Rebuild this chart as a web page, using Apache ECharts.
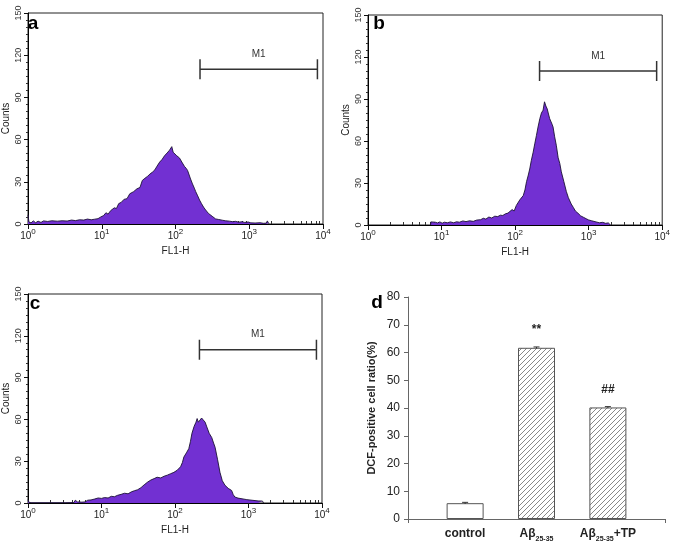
<!DOCTYPE html>
<html>
<head>
<meta charset="utf-8">
<script src="https://cdn.jsdelivr.net/npm/echarts@6/dist/echarts.min.js"></script>
<style>
html,body{margin:0;padding:0;background:#fff;}
#chart{width:673px;height:543px;}
</style>
</head>
<body>
<div id="chart"></div>
<script>
// ---------------- DATA ----------------
// Panel a histogram: [FL1-H, Counts]
const histA = [[1,6.5],[1.03,1.4],[1.1,0.8],[1.18,2.2],[1.27,0.9],[1.37,2.0],[1.5,1.1],[1.62,2.2],[1.85,1.8],[2.1,2.3],[2.5,2.0],[2.9,2.3],[3.4,2.1],[3.9,2.8],[4.4,2.4],[5.0,3.0],[5.7,2.8],[6.4,3.5],[7.2,3.0],[8.0,3.4],[8.9,3.8],[9.7,5.0],[10.6,6.0],[11.4,8.0],[12.2,7.0],[13.2,9.5],[14.0,8.5],[14.8,11.5],[15.8,11.0],[17.0,14.5],[18.5,15.5],[20,17.5],[22,18.0],[24,21.5],[27,23],[30,25],[33,26],[35.5,31],[38.5,32.5],[42,34],[45,35.5],[49,37],[52.5,38.5],[56,41],[61,44],[66,46],[71,48.5],[77,50.5],[83,52.5],[86,51.5],[89,55],[93,51],[97,50],[104,48.5],[113,47],[122,44],[132,41],[140,39.5],[146,38],[152,37.5],[160,32],[170,28.5],[180,25.5],[188,23],[200,20],[212,17],[225,14.5],[240,12],[256,10],[280,7.5],[314,5.5],[350,3.6],[385,3.2],[430,2.7],[473,2.3],[540,2.0],[600,1.6],[650,1.9],[720,1.3],[800,1.6],[870,1.1],[970,1.4],[1050,0.8],[1200,0.7],[1400,0.9],[1560,0.5],[1700,0.6],[1760,2.2],[1820,0.6],[1880,0]];
// Panel b histogram
const histB = [[7.1,0],[7.15,2.2],[7.6,1.4],[8.2,2.0],[8.8,1.5],[9.5,2.2],[10.2,1.3],[10.9,2.0],[12,1.6],[13.2,2.2],[14.6,1.6],[16,2.3],[17.5,2.0],[19.5,2.9],[21.5,2.4],[24,3.0],[27,2.6],[30,3.5],[34,3.8],[37,4.8],[40,4.2],[44,5.7],[48,5.0],[53,6.3],[58,6.0],[63,7.0],[68,6.8],[74,8.0],[80,8.5],[85,9.5],[91,11],[97,10],[104,14],[110,15],[116,18],[122,17.5],[129,21],[136,25],[143,31],[150,35],[158,40],[166,46],[176,52],[185,58],[195,64],[205,70],[217,76],[228,80],[240,82],[251,88],[262,85],[273,83],[282,80],[295,76],[309,75],[318,72],[328,70],[345,63],[363,57],[385,48],[405,44],[425,38],[460,31],[497,24],[530,19.5],[579,15],[620,12.5],[660,10],[713,8.5],[780,6.5],[850,5.5],[923,4.5],[1000,3.6],[1100,3.0],[1260,2.2],[1400,1.6],[1550,1.9],[1700,1.2],[1850,1.5],[1950,0.8],[1980,0]];
// Panel c histogram
const histC = [[1,2.4],[1.03,0.5],[1.1,0.2],[2.9,0.2],[3.05,1.5],[3.2,0.2],[4.2,0.3],[4.4,2.0],[4.7,0.8],[5.0,1.8],[5.4,0.6],[5.7,2.0],[6.0,0.8],[6.5,2.0],[7.2,2.2],[8.0,2.8],[9.0,3.6],[10,3.3],[11,3.9],[12.3,3.6],[13.6,4.8],[15,4.5],[16.5,5.5],[18.5,6.2],[20.6,7.0],[23,6.6],[25.5,8.0],[28,8.8],[31,9.5],[34.4,11],[38,13],[42.4,15],[47,16.5],[52,17.5],[57,18.5],[64,18],[71,19.2],[78.7,20],[87,21],[96.6,22],[107,23.5],[119,26],[126,29],[132,33],[143,36],[154,39],[162,44],[170,50],[182,55],[193,58],[200,60.6],[208,58],[219,57],[230,61],[244,60],[257,58],[271,54.6],[292,50],[316,47],[335,43],[351,40],[380,31],[409,22],[440,16],[479,12.7],[530,10.5],[589,9],[620,6],[652,4.3],[720,3.5],[843,2.9],[950,2.4],[1150,1.9],[1350,1.5],[1550,1.4],[1600,0]];
// M1 gate marker: [from, to, level]
const m1Gate = [215, 8400, 110];
const m1Label = 'M1';
// log-axis ticks
const logMajorLabels = [1, 10, 100, 1000, 10000];
const logMinorTicks = [2,3,4,5,6,7,8,9,20,30,40,50,60,70,80,90,200,300,400,500,600,700,800,900,2000,3000,4000,5000,6000,7000,8000,9000];
const panelLetters = ['a', 'b', 'c', 'd'];

// Panel d bar chart
const barCategories = ['control', 'Aβ25-35', 'Aβ25-35+TP'];
const barPositions = [1, 2, 3];
const barValues = [5.7, 61.7, 40.2];
const barErrors = [0.3, 0.3, 0.3];
const barSig = ['', '**', '##'];

// ---------------- STYLE ----------------
const NARROW = '"Liberation Sans Narrow","Liberation Sans",Arial,sans-serif';
const SANS = '"Liberation Sans",Arial,sans-serif';
const PURPLE = '#7230d2';

// hatch pattern
const hatch = document.createElement('canvas');
hatch.width = 5; hatch.height = 5;
(function(){
  const c = hatch.getContext('2d');
  c.fillStyle = '#fff'; c.fillRect(0,0,5,5);
  c.strokeStyle = '#7a7a7a'; c.lineWidth = 0.9;
  c.beginPath();
  c.moveTo(0,5); c.lineTo(5,0);
  c.moveTo(-1,1); c.lineTo(1,-1);
  c.moveTo(4,6); c.lineTo(6,4);
  c.stroke();
})();

const grids = [
  {left: 23, top: 13, width: 300, height: 211},
  {left: 368, top: 15, width: 297, height: 210},
  {left: 24, top: 294, width: 298, height: 209},
  {left: 408, top: 297, width: 257, height: 222}
];

const xAxes = [];
const yAxes = [];
const series = [];
const hists = [histA, histB, histC];

hists.forEach(function(h, i){
  xAxes.push({
    type: 'log', logBase: 10, gridIndex: i, min: 1, max: 10000,
    axisLine: {show: true, onZero: false, lineStyle: {color: '#000', width: 1}},
    axisTick: {show: true, length: 5, lineStyle: {color: '#111'}, customValues: logMajorLabels},
    axisLabel: {
      show: true, margin: 4, customValues: logMajorLabels,
      formatter: function(v){ return '{b|10}{s|' + Math.round(Math.log10(v)) + '}'; },
      rich: {
        b: {fontSize: 10, fontFamily: NARROW, color: '#222', verticalAlign: 'bottom'},
        s: {fontSize: 8, fontFamily: NARROW, color: '#222', verticalAlign: 'bottom', padding: [0,0,5,0]}
      }
    },
    splitLine: {show: false},
    name: 'FL1-H', nameLocation: 'middle', nameGap: 22,
    nameTextStyle: {fontSize: 10, fontFamily: NARROW, color: '#222'}
  });
  xAxes.push({
    type: 'log', logBase: 10, gridIndex: i, min: 1, max: 10000,
    axisLine: {show: false},
    axisTick: {show: true, length: 3, lineStyle: {color: '#333'}, customValues: logMinorTicks},
    axisLabel: {show: false},
    splitLine: {show: false}
  });
  yAxes.push({
    type: 'value', gridIndex: i, min: 0, max: 150, interval: 30,
    axisLine: {show: true, lineStyle: {color: '#000', width: 1}},
    axisTick: {show: true, length: 4, lineStyle: {color: '#111'}},
    minorTick: {show: true, splitNumber: 6, length: 2, lineStyle: {color: '#333'}},
    axisLabel: {rotate: 90, fontSize: 9, fontFamily: NARROW, color: '#333', margin: 5},
    splitLine: {show: false},
    name: 'Counts', nameLocation: 'middle', nameGap: 17,
    nameTextStyle: {fontSize: 10, fontFamily: SANS, color: '#222'}
  });
  series.push({
    type: 'line', xAxisIndex: i * 2, yAxisIndex: i, data: h,
    symbol: 'none', smooth: false, clip: true,
    lineStyle: {color: '#1c1236', width: 0.9},
    areaStyle: {color: PURPLE, opacity: 1},
    z: 2
  });
  series.push({
    type: 'custom', xAxisIndex: i * 2, yAxisIndex: i, clip: false,
    data: [m1Gate],
    renderItem: function(params, api){
      const p1 = api.coord([api.value(0), api.value(2)]);
      const p2 = api.coord([api.value(1), api.value(2)]);
      const cap = 10;
      const st = {stroke: '#333', lineWidth: 1.5};
      return {type: 'group', children: [
        {type: 'line', shape: {x1: p1[0], y1: p1[1], x2: p2[0], y2: p2[1]}, style: st},
        {type: 'line', shape: {x1: p1[0], y1: p1[1] - cap, x2: p1[0], y2: p1[1] + cap}, style: st},
        {type: 'line', shape: {x1: p2[0], y1: p2[1] - cap, x2: p2[0], y2: p2[1] + cap}, style: st},
        {type: 'text', x: (p1[0] + p2[0]) / 2, y: p1[1] - 15, style: {text: m1Label, fill: '#333', font: '10px ' + NARROW, align: 'center', verticalAlign: 'middle'}}
      ]};
    },
    z: 3
  });
});

// Bar panel axes
xAxes.push({
  type: 'value', gridIndex: 3, min: 0.2, max: 3.8,
  axisLine: {show: true, onZero: false, lineStyle: {color: '#666', width: 1}},
  axisTick: {show: true, length: 4, lineStyle: {color: '#666'}, customValues: [0.2, 3.8]},
  axisLabel: {
    show: true, margin: 9, customValues: barPositions,
    formatter: function(v){
      const name = barCategories[Math.round(v) - 1] || '';
      return '{a|' + name.replace('25-35', '}{sub|25-35}{a|') + '}';
    },
    rich: {
      a: {fontSize: 12, fontWeight: 'bold', fontFamily: SANS, color: '#222', verticalAlign: 'bottom', padding: [0,0,3,0]},
      sub: {fontSize: 7, fontWeight: 'bold', fontFamily: SANS, color: '#222', verticalAlign: 'bottom'}
    }
  },
  splitLine: {show: false}
});
yAxes.push({
  type: 'value', gridIndex: 3, min: 0, max: 80, interval: 10,
  axisLine: {show: true, lineStyle: {color: '#666', width: 1}},
  axisTick: {show: true, length: 4, lineStyle: {color: '#666'}},
  axisLabel: {fontSize: 12, fontFamily: SANS, color: '#222', margin: 8},
  splitLine: {show: false},
  name: 'DCF-positive cell ratio(%)', nameLocation: 'middle', nameGap: 31,
  nameTextStyle: {fontSize: 11, fontWeight: 'bold', fontFamily: SANS, color: '#222'}
});

series.push({
  type: 'bar', xAxisIndex: 6, yAxisIndex: 3, barWidth: 37,
  data: barPositions.map(function(p, i){
    return {value: [p, barValues[i]], itemStyle: {color: i === 0 ? '#fff' : {image: hatch, repeat: 'repeat'}, borderColor: '#555', borderWidth: 1}};
  }),
  z: 2
});
series.push({
  type: 'custom', xAxisIndex: 6, yAxisIndex: 3, clip: false,
  data: barPositions.map(function(p, i){ return [p, barValues[i], barErrors[i], i]; }),
  renderItem: function(params, api){
    const x = api.value(0), v = api.value(1), e = api.value(2), idx = api.value(3);
    const top = api.coord([x, v + e]);
    const bot = api.coord([x, v - e]);
    const st = {stroke: '#333', lineWidth: 1};
    const children = [
      {type: 'line', shape: {x1: top[0], y1: top[1], x2: bot[0], y2: bot[1]}, style: st},
      {type: 'line', shape: {x1: top[0] - 3, y1: top[1], x2: top[0] + 3, y2: top[1]}, style: st}
    ];
    const sig = barSig[idx];
    if (sig) {
      children.push({type: 'text', x: top[0], y: top[1] - 17, style: {text: sig, fill: '#222', font: 'bold 12px ' + SANS, align: 'center', verticalAlign: 'middle'}});
    }
    return {type: 'group', children: children};
  },
  z: 4
});

// panel letters
const letterPos = [[33, 24], [379, 24], [35, 304], [377, 303]];
const graphics = panelLetters.map(function(t, i){
  return {type: 'text', x: letterPos[i][0], y: letterPos[i][1], style: {text: t, font: 'bold 19px ' + SANS, fill: '#000', align: 'center', verticalAlign: 'middle'}, z: 10};
});

const chart = echarts.init(document.getElementById('chart'), null, {renderer: 'canvas'});
chart.setOption({
  backgroundColor: '#fff',
  animation: false,
  grid: grids.map(function(g, i){
    return Object.assign({containLabel: false, show: i < 3, borderColor: '#222', borderWidth: 1, backgroundColor: 'transparent'}, g);
  }),
  xAxis: xAxes,
  yAxis: yAxes,
  series: series,
  graphic: graphics
});
</script>
</body>
</html>
